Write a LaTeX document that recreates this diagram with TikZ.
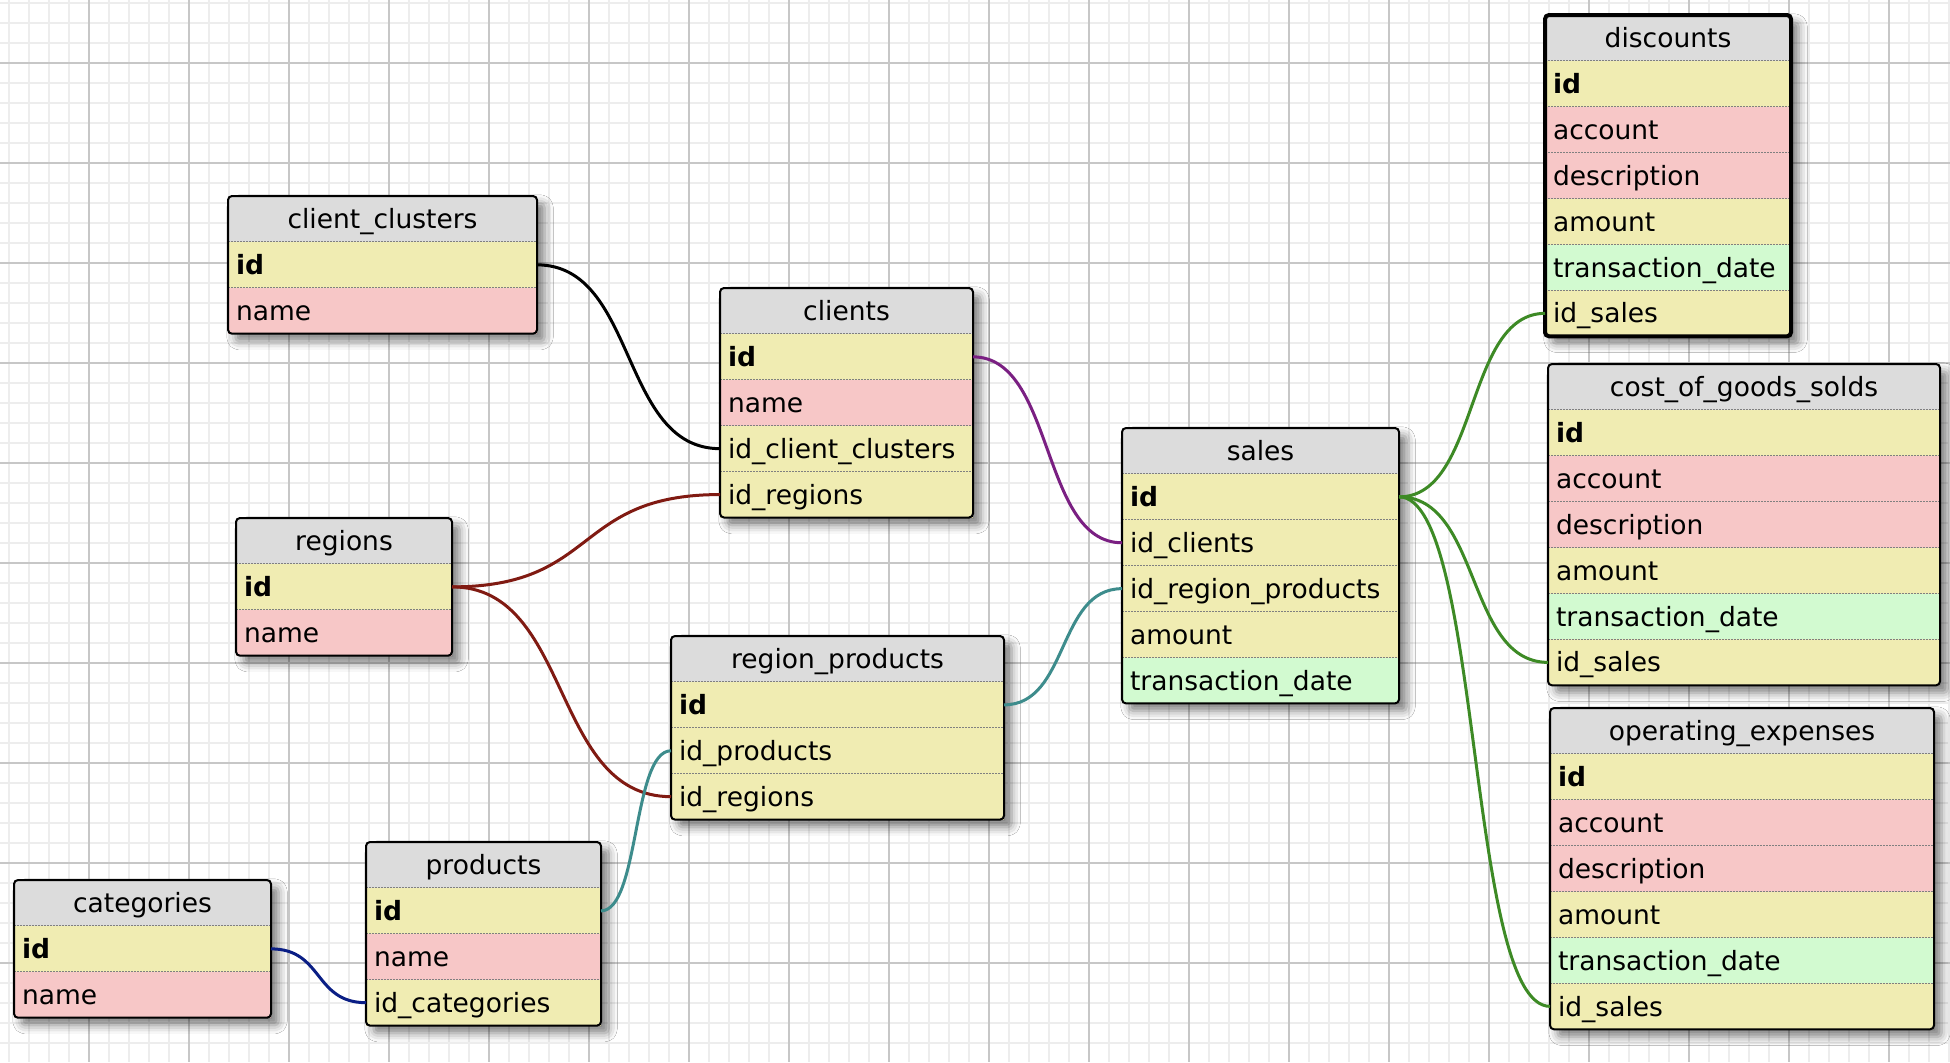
\documentclass[tikz,border=0pt]{standalone}
\usepackage{fontspec}
\setmainfont{DejaVu Sans}
\usetikzlibrary{calc,shadows.blur}

\definecolor{hdrgray}{HTML}{DCDCDC}
\definecolor{keyyellow}{HTML}{F0ECB2}
\definecolor{txtpink}{HTML}{F7C7C7}
\definecolor{dategreen}{HTML}{D2FAD0}
\definecolor{linkpurple}{HTML}{7A1F82}
\definecolor{linkred}{HTML}{801A12}
\definecolor{linkteal}{HTML}{3D8C8C}
\definecolor{linknavy}{HTML}{0A1E85}
\definecolor{linkgreen}{HTML}{3D8A25}

\def\rowh{45.9}
\newcommand{\tblfont}{\fontsize{10.6}{12}\selectfont}
% table: name, left, top, width, rows, title, fields (label/style/key)
\newcommand{\dbtable}[7]{%
  \pgfmathsetmacro\tblh{(#5+1)*\rowh}
  \pgfmathsetmacro\tblt{#4*0.4-6.4}
  \path[tblback] (#2,#3) rectangle ++(#4,\tblh);
  \node[tblhead, text width=\tblt pt, anchor=north west] (#1) at (#2,#3) {#6};
  \foreach \lbl/\kind/\key [count=\i] in {#7} {
    \node[tblrow, \kind, text width=\tblt pt, anchor=north west] (#1-\key) at (#2,#3+\i*\rowh) {\lbl};
    \draw[rowsep] (#1-\key.north west) -- (#1-\key.north east);
  }
  \draw[tblframe] (#2,#3) rectangle ++(#4,\tblh);
}

\tikzset{
  minorgrid/.style={draw=black!7, line width=0.7pt},
  majorgrid/.style={draw=black!22, line width=0.8pt},
  tblback/.style={fill=white, rounded corners=1.6pt,
    blur shadow={shadow xshift=3pt, shadow yshift=-3pt, shadow blur radius=3.5pt, shadow opacity=50}},
  tblframe/.style={draw=black, line width=0.8pt, rounded corners=1.6pt},
  tblrow/.style={rectangle, inner xsep=3.2pt, inner ysep=0pt, outer sep=0pt,
    minimum height=18.36pt, text height=7.7pt, text depth=0pt, align=left, font=\tblfont},
  tblhead/.style={tblrow, fill=hdrgray, align=center},
  pkrow/.style={fill=keyyellow, font=\tblfont\bfseries},
  fkrow/.style={fill=keyyellow},
  txtrow/.style={fill=txtpink},
  daterow/.style={fill=dategreen},
  rowsep/.style={draw=black!50, line width=0.4pt, dash pattern=on 0.6pt off 0.6pt},
  fkline/.style={line width=1.2pt,
    to path={let \p1=(\tikztostart), \p2=(\tikztotarget), \n1={0.55*(\x2-\x1)} in
      .. controls ($(\tikztostart)+(\n1,0)$) and ([xshift=-\n1]\tikztotarget) .. (\tikztotarget)}}
}

\begin{document}
\begin{tikzpicture}[x=0.4pt, y=-0.4pt]
  \useasboundingbox (0,0) rectangle (1950,1062);
  \fill[white] (0,0) rectangle (1950,1062);

  % background grid
  \foreach \x in {9,29,...,1949} \draw[minorgrid] (\x,0) -- (\x,1062);
  \foreach \y in {3,23,...,1062} \draw[minorgrid] (0,\y) -- (1950,\y);
  \foreach \x in {89,189,...,1949} \draw[majorgrid] (\x,0) -- (\x,1062);
  \foreach \y in {62.7,162.7,...,1062} \draw[majorgrid] (0,\y) -- (1950,\y);

  % tables
  \dbtable{clusters}{228}{196}{309}{2}{client\_clusters}
    {id/pkrow/id, name/txtrow/name}
  \dbtable{clients}{720}{288}{253}{4}{clients}
    {id/pkrow/id, name/txtrow/name, id\_client\_clusters/fkrow/clusters, id\_regions/fkrow/regions}
  \dbtable{regions}{236}{518}{216}{2}{regions}
    {id/pkrow/id, name/txtrow/name}
  \dbtable{sales}{1122}{428}{277}{5}{sales}
    {id/pkrow/id, id\_clients/fkrow/clients, id\_region\_products/fkrow/rp, amount/fkrow/amount, transaction\_date/daterow/date}
  \dbtable{rp}{671}{636}{333}{3}{region\_products}
    {id/pkrow/id, id\_products/fkrow/products, id\_regions/fkrow/regions}
  \dbtable{products}{366}{842}{235}{3}{products}
    {id/pkrow/id, name/txtrow/name, id\_categories/fkrow/categories}
  \dbtable{categories}{14}{880}{257}{2}{categories}
    {id/pkrow/id, name/txtrow/name}
  \dbtable{discounts}{1545}{15}{246}{6}{discounts}
    {id/pkrow/id, account/txtrow/account, description/txtrow/description, amount/fkrow/amount, transaction\_date/daterow/date, id\_sales/fkrow/sales}
  \draw[tblframe, line width=1.6pt] (discounts.north west) rectangle (discounts-sales.south east);
  \dbtable{cogs}{1548}{364}{392}{6}{cost\_of\_goods\_solds}
    {id/pkrow/id, account/txtrow/account, description/txtrow/description, amount/fkrow/amount, transaction\_date/daterow/date, id\_sales/fkrow/sales}
  \dbtable{opex}{1550}{708}{384}{6}{operating\_expenses}
    {id/pkrow/id, account/txtrow/account, description/txtrow/description, amount/fkrow/amount, transaction\_date/daterow/date, id\_sales/fkrow/sales}

  % relations
  \draw[fkline, black] (clusters-id.east) to (clients-clusters.west);
  \draw[fkline, linkpurple] (clients-id.east) to (sales-clients.west);
  \draw[fkline, linkred] (regions-id.east) to (clients-regions.west);
  \draw[fkline, linkred] (regions-id.east) to (rp-regions.west);
  \draw[fkline, linkteal] (rp-id.east) to (sales-rp.west);
  \draw[fkline, linkteal] (products-id.east) to (rp-products.west);
  \draw[fkline, linknavy] (categories-id.east) to (products-categories.west);
  \foreach \t in {discounts,cogs,opex}
    \draw[fkline, linkgreen] (sales-id.east) to (\t-sales.west);
\end{tikzpicture}
\end{document}
